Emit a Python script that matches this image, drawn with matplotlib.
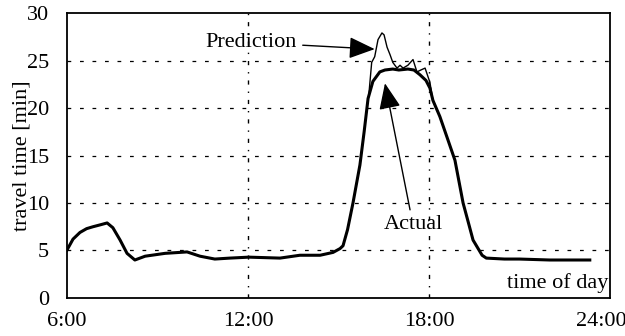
import matplotlib
matplotlib.use("Agg")
import matplotlib.pyplot as plt
import matplotlib.transforms as mtransforms
import numpy as np

plt.rcParams["font.family"] = ["Liberation Serif", "DejaVu Serif"]

# actual travel time over the day (hour, minutes)
actual_hours = [6.0, 6.2, 6.43, 6.65, 6.86, 7.1, 7.33, 7.52, 7.76, 7.99, 8.25,
                8.59, 9.25, 9.98, 10.41, 10.9, 11.4, 12.03, 13.06, 13.72,
                14.39, 14.82, 15.05, 15.15, 15.3, 15.48, 15.71, 15.85, 15.98,
                16.14, 16.37, 16.54, 16.8, 17.0, 17.3, 17.5, 17.7, 17.9, 18.03,
                18.13, 18.36, 18.6, 18.86, 19.13, 19.3, 19.46, 19.76, 19.9,
                20.5, 21.0, 22.0, 23.0, 23.33]
actual_minutes = [5.05, 6.2, 6.9, 7.3, 7.5, 7.7, 7.9, 7.4, 6.1, 4.7, 4.0,
                  4.4, 4.7, 4.85, 4.4, 4.1, 4.2, 4.3, 4.2, 4.5,
                  4.5, 4.8, 5.2, 5.5, 7.2, 10.0, 14.0, 17.5, 21.0,
                  22.8, 23.8, 24.0, 24.1, 24.0, 24.1, 24.0, 23.5, 22.9, 22.1,
                  20.8, 19.1, 16.9, 14.5, 10.0, 8.0, 6.1, 4.5, 4.2,
                  4.1, 4.1, 4.0, 4.0, 4.0]

# prediction deviates from actual only around the evening peak
pred_peak_hours = [16.0, 16.1, 16.2, 16.31, 16.44, 16.51, 16.61, 16.71, 16.8,
                   16.94, 17.04, 17.14, 17.3, 17.47, 17.6, 17.73, 17.87, 18.03]
pred_peak_minutes = [21.2, 24.8, 25.4, 27.2, 27.9, 27.7, 26.4, 25.6, 24.8,
                     24.2, 24.5, 24.2, 24.5, 25.1, 23.8, 24.0, 24.2, 22.7]

xticks = [6, 12, 18, 24]
xtick_labels = ["6:00", "12:00", "18:00", "24:00"]
yticks = [0, 5, 10, 15, 20, 25, 30]

ah = np.array(actual_hours)
am = np.array(actual_minutes)
before = ah < pred_peak_hours[0]
after = ah > pred_peak_hours[-1]
pred_hours = np.concatenate([ah[before], pred_peak_hours, ah[after]])
pred_minutes = np.concatenate([am[before], pred_peak_minutes, am[after]])

fig = plt.figure(figsize=(6.25, 3.36), dpi=100)
ax = fig.add_axes([0.1072, 0.1131, 0.8688, 0.8482])

ax.plot(pred_hours, pred_minutes, color="black", lw=1.0, zorder=3)
ax.plot(ah, am, color="black", lw=2.2, zorder=4)

ax.set_xlim(6, 24)
ax.set_ylim(0, 30)
ax.set_xticks(xticks)
ax.set_xticklabels(xtick_labels)
ax.set_yticks(yticks)
ax.tick_params(axis="both", length=0, labelsize=16)
ax.tick_params(axis="y", pad=13)
ax.tick_params(axis="x", pad=10)

for y in yticks[1:-1]:
    ax.axhline(y, color="black", lw=0.9, ls=(0, (3, 7)), zorder=1)
for x in [12, 18]:
    ax.axvline(x, color="black", lw=1.0, ls=(0, (3, 5, 1, 5)), zorder=1)

for sp in ax.spines.values():
    sp.set_linewidth(1.3)

# last tick label shifted left so it stays inside the figure
offset = mtransforms.ScaledTranslation(-9 / 100, 0, fig.dpi_scale_trans)
last = ax.get_xticklabels()[-1]
last.set_transform(last.get_transform() + offset)

ax.set_ylabel("travel time [min]", fontsize=16)
ax.yaxis.set_label_coords(-0.066, 0.5)

arrow = dict(arrowstyle="-|>,head_length=1.0,head_width=0.42", color="black", lw=1.0,
             shrinkA=2, shrinkB=0)
ax.annotate("Prediction", xy=(16.2, 26.2), xytext=(13.63, 26.9),
            ha="right", va="center", fontsize=16, arrowprops=arrow)
ax.annotate("Actual", xy=(16.54, 22.6), xytext=(17.47, 7.7),
            ha="center", va="center", fontsize=16, arrowprops=arrow)
ax.text(23.93, 1.6, "time of day", ha="right", va="center", fontsize=16)

fig.savefig("out.png", dpi=100)
